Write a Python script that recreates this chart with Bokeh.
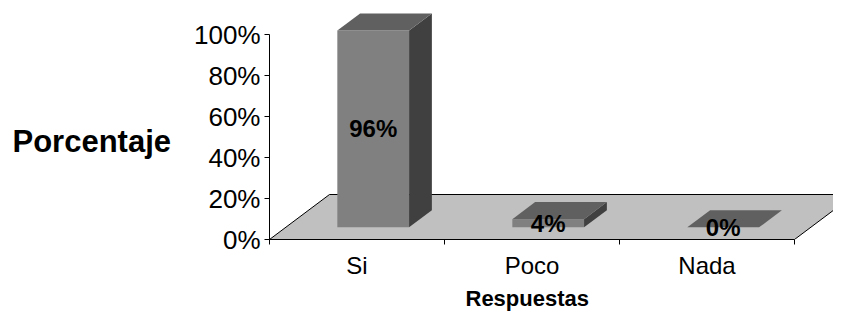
from bokeh.plotting import figure
from bokeh.models import Range1d, FixedTicker, Title
from bokeh.embed import file_html
from bokeh.resources import INLINE
from bokeh.core.properties import value

# ---- data ----
categories = ["Si", "Poco", "Nada"]
percentages = [96, 4, 0]
value_labels = ["96%", "4%", "0%"]
y_ticks = [0, 20, 40, 60, 80, 100]
y_tick_labels = ["0%", "20%", "40%", "60%", "80%", "100%"]
y_title = "Porcentaje"
x_title = "Respuestas"

# ---- layout constants ----
W, H = 833, 313
PX_X = 175.0   # pixels per category
PX_Y = 2.05    # pixels per percent
LEFT, BOTTOM = 269, 74
FONT = "Liberation Sans"

n = len(categories)
x0 = -0.5
p = figure(width=W, height=H, output_backend="svg", toolbar_location=None,
           x_range=Range1d(x0, x0 + (W - LEFT) / PX_X),
           y_range=Range1d(0, (H - BOTTOM) / PX_Y),
           min_border_left=LEFT, min_border_bottom=BOTTOM,
           min_border_top=0, min_border_right=0)
p.grid.visible = False
p.outline_line_color = None
p.background_fill_color = "white"
p.border_fill_color = "white"

# 3D depth vector (data units)
DX = 60 / PX_X
DY = 45 / PX_Y
t0, t1 = 0.27, 0.65
hw = 0.205

# floor
p.patch([x0, x0 + n, x0 + n + DX, x0 + DX], [0, 0, DY, DY],
        fill_color="#c0c0c0", line_color="black", line_width=1)

xs, ys, cols = [], [], []
lx, ly = [], []
for i, v in enumerate(percentages):
    fx0 = i - hw + t0 * DX
    fx1 = i + hw + t0 * DX
    fy0 = t0 * DY
    fy1 = fy0 + v
    bdx = (t1 - t0) * DX
    bdy = (t1 - t0) * DY
    if v > 0:
        xs.append([fx0, fx1, fx1, fx0]); ys.append([fy0, fy0, fy1, fy1]); cols.append("#808080")
        xs.append([fx1, fx1 + bdx, fx1 + bdx, fx1]); ys.append([fy0, fy0 + bdy, fy1 + bdy, fy1]); cols.append("#404040")
    xs.append([fx0, fx1, fx1 + bdx, fx0 + bdx]); ys.append([fy1, fy1, fy1 + bdy, fy1 + bdy]); cols.append("#606060")
    lx.append((fx0 + fx1) / 2)
    ly.append(fy0 + v / 2)

p.patches(xs, ys, fill_color=cols, line_color=None)
p.text(x=lx, y=ly, text=value_labels, text_font=value(FONT), text_font_style="bold",
       text_font_size="24px", text_align="center", text_baseline="middle", text_color="black")

# y axis
ya = p.yaxis[0]
ya.ticker = FixedTicker(ticks=y_ticks)
ya.major_label_overrides = {t: l for t, l in zip(y_ticks, y_tick_labels)}
ya.bounds = (0, 100)
ya.major_tick_out = 5
ya.major_tick_in = 0
ya.minor_tick_out = 0
ya.minor_tick_in = 0
ya.major_label_standoff = 4
ya.major_label_text_font = FONT
ya.major_label_text_font_size = "26px"
ya.major_label_text_color = "black"
ya.axis_line_color = "black"
ya.major_tick_line_color = "black"
ya.axis_label = "\n" + y_title
ya.axis_label_orientation = "horizontal"
ya.axis_label_standoff = 20
ya.axis_label_text_font = FONT
ya.axis_label_text_font_style = "bold"
ya.axis_label_text_font_size = "31px"
ya.axis_label_text_color = "black"

# x axis
xa = p.xaxis[0]
xa.ticker = FixedTicker(ticks=list(range(n)), minor_ticks=[x0 + k for k in range(n + 1)])
xa.major_label_overrides = {i: c for i, c in enumerate(categories)}
xa.bounds = (x0, x0 + n)
xa.major_tick_out = 0
xa.major_tick_in = 0
xa.minor_tick_out = 5
xa.minor_tick_in = 0
xa.major_label_standoff = 7
xa.major_label_text_font = FONT
xa.major_label_text_font_size = "24px"
xa.major_label_text_color = "black"
xa.axis_line_color = "black"
xa.minor_tick_line_color = "black"

p.add_layout(Title(text=x_title, align="left", offset=196, standoff=4,
                   text_font=FONT, text_font_style="bold", text_font_size="22px",
                   text_color="black"), "below")

open("out.html", "w").write(file_html(p, INLINE))
